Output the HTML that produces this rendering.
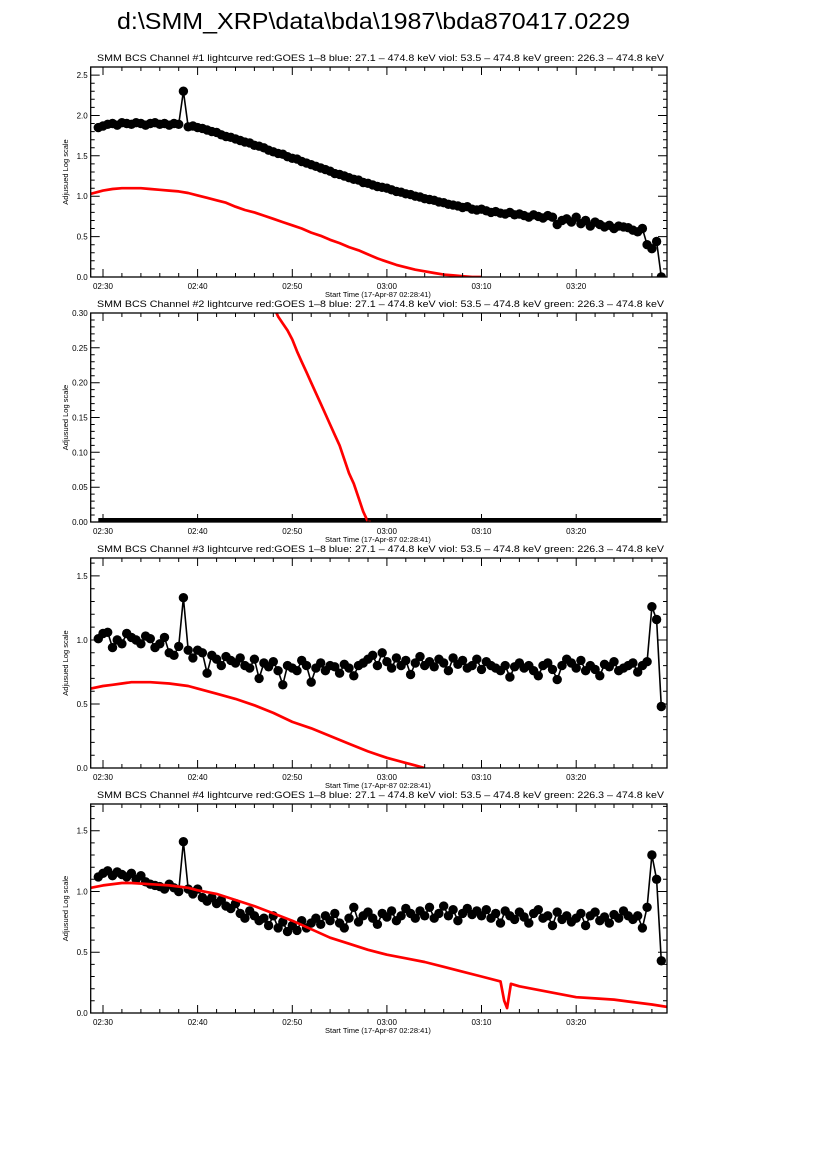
<!DOCTYPE html>
<html><head><meta charset="utf-8"><style>
html,body{margin:0;padding:0;background:#fff;}
svg{display:block;font-family:"Liberation Sans",sans-serif;}
</style></head><body>
<svg id="chart" width="826" height="1169" viewBox="0 0 826 1169" xmlns="http://www.w3.org/2000/svg">
<rect width="826" height="1169" fill="#fff"/>
<text x="117" y="29" font-size="23" textLength="513" lengthAdjust="spacingAndGlyphs">d:\SMM_XRP\data\bda\1987\bda870417.0229</text>
</svg>
<script>
// black series: sampled every 0.5 min from t=-0.5 (min after 02:30)
const blackStart = -0.5, blackStep = 0.5;
const black1 = [1.85,1.87,1.89,1.90,1.88,1.91,1.90,1.89,1.91,1.90,1.88,1.90,1.91,1.89,1.90,1.88,1.90,1.89,2.30,1.86,1.87,
1.85,1.84,1.82,1.80,1.79,1.76,1.74,1.73,1.71,1.69,1.67,1.66,1.63,1.62,1.60,1.57,1.55,1.53,1.52,1.49,
1.47,1.46,1.43,1.41,1.39,1.37,1.35,1.33,1.31,1.28,1.27,1.25,1.23,1.21,1.20,1.17,1.16,1.14,1.12,1.11,
1.10,1.08,1.06,1.05,1.03,1.02,1.00,0.99,0.97,0.96,0.95,0.93,0.92,0.90,0.89,0.88,0.86,0.87,0.84,0.83,
0.84,0.82,0.80,0.81,0.79,0.78,0.80,0.77,0.78,0.76,0.74,0.77,0.75,0.73,0.76,0.74,0.65,0.70,0.72,0.68,
0.74,0.66,0.70,0.63,0.68,0.65,0.62,0.64,0.60,0.63,0.62,0.61,0.58,0.56,0.60,0.40,0.35,0.44,0.0];
const black2 = [0,0,0,0,0,0,0,0,0,0,0,0,0,0,0,0,0,0,0,0,0,0,0,0,0,0,0,0,0,0,0,0,0,0,0,0,0,0,0,0,0,0,0,0,0,0,0,0,0,0,0,0,0,0,0,0,0,0,0,0,
0,0,0,0,0,0,0,0,0,0,0,0,0,0,0,0,0,0,0,0,0,0,0,0,0,0,0,0,0,0,0,0,0,0,0,0,0,0,0,0,0,0,0,0,0,0,0,0,0,0,0,0,0,0,0,0,0,0,0,0];
const black3 = [1.01,1.05,1.06,0.94,1.00,0.97,1.05,1.02,1.00,0.97,1.03,1.01,0.94,0.97,1.02,0.90,0.88,0.95,1.33,0.92,0.86,
0.92,0.90,0.74,0.88,0.85,0.80,0.87,0.84,0.82,0.86,0.80,0.78,0.85,0.70,0.82,0.79,0.83,0.76,0.65,0.80,
0.78,0.76,0.84,0.80,0.67,0.78,0.82,0.76,0.80,0.79,0.74,0.81,0.78,0.72,0.80,0.82,0.85,0.88,0.80,0.90,
0.83,0.78,0.86,0.80,0.84,0.73,0.82,0.87,0.80,0.83,0.79,0.85,0.82,0.76,0.86,0.81,0.84,0.78,0.80,0.85,
0.77,0.83,0.80,0.78,0.76,0.80,0.71,0.79,0.82,0.78,0.80,0.76,0.72,0.80,0.82,0.77,0.69,0.80,0.85,0.82,
0.78,0.84,0.76,0.80,0.77,0.72,0.81,0.79,0.83,0.76,0.78,0.80,0.82,0.75,0.80,0.83,1.26,1.16,0.48];
const black4 = [1.12,1.15,1.17,1.13,1.16,1.14,1.12,1.15,1.10,1.13,1.08,1.06,1.05,1.04,1.02,1.06,1.03,1.00,1.41,1.02,0.98,
1.02,0.95,0.92,0.95,0.90,0.93,0.88,0.86,0.90,0.82,0.78,0.84,0.80,0.76,0.78,0.72,0.80,0.70,0.75,0.67,
0.72,0.68,0.76,0.70,0.74,0.78,0.73,0.80,0.76,0.82,0.74,0.70,0.78,0.87,0.75,0.80,0.83,0.78,0.73,0.82,
0.79,0.84,0.76,0.80,0.86,0.82,0.78,0.84,0.80,0.87,0.78,0.82,0.88,0.80,0.85,0.76,0.82,0.86,0.81,0.84,
0.80,0.85,0.78,0.82,0.74,0.84,0.80,0.77,0.83,0.79,0.74,0.82,0.85,0.78,0.80,0.72,0.83,0.77,0.80,0.75,
0.78,0.82,0.72,0.80,0.83,0.76,0.79,0.74,0.81,0.78,0.84,0.80,0.77,0.80,0.70,0.87,1.30,1.10,0.43];
// red (GOES) series
const redT1 = [-1.3,0,1,2,3,4,5,6,7,8,9,10,11,12,13,14,15,16,17,18,19,20,21,22,23,24,25,26,27,28,29,30,31,32,33,34,35,36,37,38,39,40];
const red1 = [1.03,1.07,1.09,1.10,1.10,1.10,1.09,1.08,1.07,1.06,1.04,1.01,0.98,0.95,0.92,0.87,0.83,0.80,0.76,0.72,0.68,0.64,0.60,0.55,0.51,0.46,0.42,0.37,0.33,0.28,0.23,0.19,0.15,0.12,0.09,0.07,0.05,0.03,0.02,0.01,0.0,0.0];
const redT2 = [14,16,17,18,18.5,19,19.5,20,20.5,21,21.5,22,22.5,23,23.5,24,24.5,25,25.5,26,26.5,27,27.5,28,28.3];
const red2 = [0.45,0.38,0.34,0.31,0.295,0.285,0.275,0.262,0.245,0.23,0.215,0.20,0.185,0.17,0.155,0.14,0.125,0.11,0.09,0.07,0.055,0.035,0.015,0.0,0.0];
const redT3 = [-1.3,0,1,2,3,5,7,9,10,12,14,16,18,20,22,24,26,28,30,32,33,34];
const red3 = [0.62,0.64,0.65,0.66,0.67,0.67,0.66,0.64,0.62,0.58,0.54,0.49,0.43,0.36,0.31,0.25,0.19,0.13,0.08,0.04,0.02,0.0];
const redT4 = [-1.3,0,2,3,5,7,9,10,12,14,16,18,20,22,24,26,28,30,32,34,36,38,40,42,42.4,42.7,43.1,44,46,48,50,52,54,56,58,59.6];
const red4 = [1.03,1.05,1.07,1.07,1.06,1.05,1.03,1.01,0.98,0.93,0.88,0.82,0.76,0.69,0.62,0.57,0.52,0.48,0.45,0.42,0.38,0.34,0.30,0.26,0.10,0.04,0.24,0.22,0.19,0.16,0.13,0.12,0.11,0.09,0.07,0.05];
const xTickLabels = ["02:30","02:40","02:50","03:00","03:10","03:20"];
const yTicks1 = ["0.0","0.5","1.0","1.5","2.0","2.5"];
const yTicks2 = ["0.00","0.05","0.10","0.15","0.20","0.25","0.30"];
const yTicks34 = ["0.0","0.5","1.0","1.5"];

const NS="http://www.w3.org/2000/svg";
const svg=document.getElementById('chart');
function el(tag,attrs,parent){const e=document.createElementNS(NS,tag);for(const k in attrs)e.setAttribute(k,attrs[k]);(parent||svg).appendChild(e);return e;}
const L=90.7,R=667,T0=-1.3,T1=59.6;
const xs=t=>L+(t-T0)*(R-L)/(T1-T0);

const panels=[
 {n:1,top:67,bot:277,ymax:2.6,major:0.5,minor:0.1,ticks:yTicks1,black:black1,rt:redT1,red:red1,dots:true},
 {n:2,top:313,bot:522,ymax:0.30,major:0.05,minor:0.01,ticks:yTicks2,black:black2,rt:redT2,red:red2,dots:false},
 {n:3,top:558,bot:768,ymax:1.64,major:0.5,minor:0.1,ticks:yTicks34,black:black3,rt:redT3,red:red3,dots:true},
 {n:4,top:804,bot:1013,ymax:1.72,major:0.5,minor:0.1,ticks:yTicks34,black:black4,rt:redT4,red:red4,dots:true}
];
panels.forEach(p=>{
 const g=el('g',{});
 
 
 const ys=v=>p.bot-(v/p.ymax)*(p.bot-p.top);
 const clipId='clip'+p.n;
 const cp=el('clipPath',{id:clipId},g);
 el('rect',{x:L,y:p.top,width:R-L,height:p.bot-p.top},cp);
 const st=el('text',{x:97,y:p.top-6,'font-size':9.5,textLength:567,lengthAdjust:'spacingAndGlyphs'},g);
 
 
 st.textContent='SMM BCS Channel #'+p.n+' lightcurve  red:GOES 1\u20138  blue: 27.1 \u2013 474.8 keV  viol: 53.5 \u2013 474.8 keV  green: 226.3 \u2013 474.8 keV';
 const sg=el('g',{'clip-path':'url(#'+clipId+')'},g);
 let d='';p.black.forEach((v,i)=>{const t=blackStart+blackStep*i;d+=(i?'L':'M')+xs(t).toFixed(1)+' '+ys(v).toFixed(1);});
 const bl=el('path',{d:d,fill:'none',stroke:'#000','stroke-width':p.dots?1.6:8},sg);
 
 
 if(p.dots){p.black.forEach((v,i)=>{const t=blackStart+blackStep*i;
  const c=el('circle',{cx:xs(t).toFixed(1),cy:ys(v).toFixed(1),r:4.7,fill:'#000'},sg);
  
  });}
 let rd='';p.red.forEach((v,i)=>{rd+=(i?'L':'M')+xs(p.rt[i]).toFixed(1)+' '+ys(v).toFixed(1);});
 const rl=el('path',{d:rd,fill:'none',stroke:'#f00','stroke-width':2.7,'stroke-linejoin':'round'},sg);
 
 
 const fr=el('rect',{x:L,y:p.top,width:R-L,height:p.bot-p.top,fill:'none',stroke:'#000','stroke-width':1.3},g);
 
 
 let td='';
 for(let m=0;m<=58;m+=2){const x=xs(m).toFixed(1);const len=(m%10===0)?8:4;td+='M'+x+' '+p.bot+'v'+(-len)+'M'+x+' '+p.top+'v'+len;}
 for(let k=0;k<=Math.round(p.ymax/p.minor);k++){const v=k*p.minor;if(v>p.ymax+1e-9)break;const y=ys(v).toFixed(1);
  const isMaj=Math.abs(v/p.major-Math.round(v/p.major))<1e-6;const len=isMaj?9:4;td+='M'+L+' '+y+'h'+len+'M'+R+' '+y+'h'+(-len);}
 el('path',{d:td,stroke:'#000','stroke-width':1,fill:'none'},g);
 xTickLabels.forEach((s,i)=>{const t=el('text',{x:xs(i*10).toFixed(1),y:p.bot+12,'font-size':8,'text-anchor':'middle'},g);
  
  
  t.textContent=s;});
 p.ticks.forEach((s,i)=>{const t=el('text',{x:L-3,y:(ys(i*p.major)+3).toFixed(1),'font-size':8,'text-anchor':'end'},g);
  
  
  t.textContent=s;});
 const xl=el('text',{x:378,y:p.bot+20,'font-size':7.5,'text-anchor':'middle'},g);
 
 
 xl.textContent='Start Time (17-Apr-87 02:28:41)';
 const cy=(p.top+p.bot)/2;
 const yl=el('text',{x:0,y:0,'font-size':7.5,'text-anchor':'middle',transform:'translate(68 '+cy+') rotate(-90)'},g);
 
 
 yl.textContent='Adjusued Log scale';
});
</script>
</body></html>
